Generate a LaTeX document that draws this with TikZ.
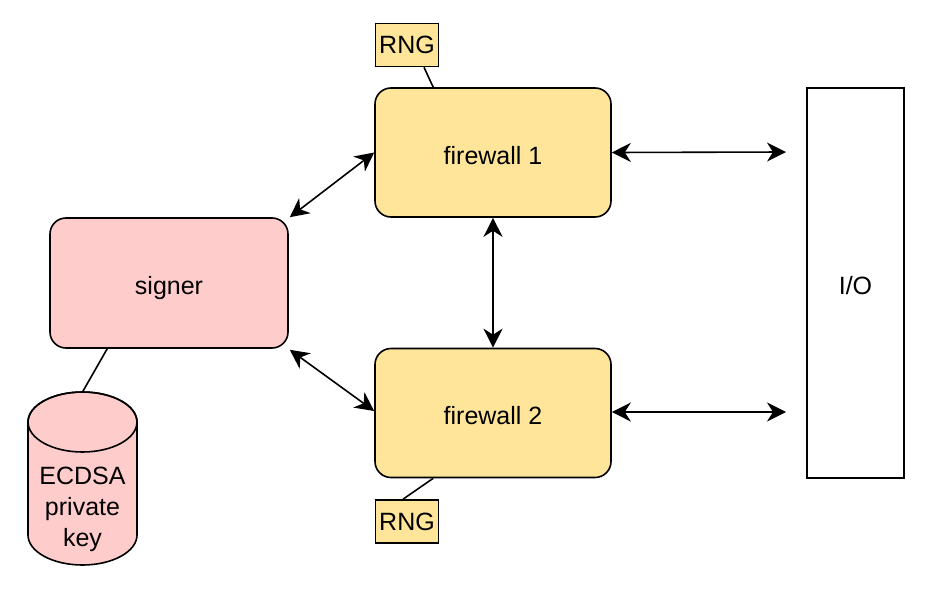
\documentclass[tikz,border=0pt]{standalone}
\usepackage{fontspec}
\setmainfont{Liberation Sans}
\usetikzlibrary{arrows.meta,calc}
\definecolor{pinkfill}{HTML}{FFCCCC}
\definecolor{yelfill}{HTML}{FFE599}
\begin{document}
\begin{tikzpicture}[x=1pt,y=-1pt,
  every node/.style={font=\fontsize{25}{31}\selectfont},
  box/.style={draw=black, line width=1.6pt, rounded corners=16pt, minimum width=236pt, minimum height=129pt, text height=27pt, text depth=4pt},
  fw/.style={box, fill=yelfill},
  rng/.style={draw=black, line width=1.6pt, fill=yelfill, minimum width=63pt, minimum height=43pt, inner sep=0pt, text height=23pt, text depth=5pt},
  link/.style={line width=1.6pt},
  biarrow/.style={line width=1.6pt, {Stealth[length=19pt,width=19pt,inset=6pt]}-{Stealth[length=19pt,width=19pt,inset=6pt]}}
]
\useasboundingbox (0,0) rectangle (934,594);
\fill[white] (0,0) rectangle (934,594);

\node[box, fill=pinkfill, minimum width=238pt, minimum height=130pt] (signer) at (169,283) {signer};
\node[fw] (fw1) at (493,152.5) {firewall 1};
\node[fw] (fw2) at (493,413) {firewall 2};
\node[rng] (rng1) at (407,45) {RNG};
\node[rng] (rng2) at (407,521.5) {RNG};
\node[draw=black, line width=1.6pt, fill=white, minimum width=97pt, minimum height=390pt, text height=27pt, text depth=4pt] (io) at (855.5,283) {I/O};

% cylinder
\filldraw[fill=pinkfill, draw=black, line width=1.6pt]
  (28,422) -- (28,535) arc[start angle=180, end angle=0, x radius=54.5, y radius=30]
  -- (137,422) arc[start angle=0, end angle=-180, x radius=54.5, y radius=30] -- cycle;
\draw[line width=1.6pt] (82.5,422) ellipse [x radius=54.5, y radius=30];
\coordinate (cyltop) at (82.5,392);
\node[align=center] (key) at (82.5,509) {ECDSA\\private\\key};

% links
\draw[link] ($(signer.south west)+(58,0)$) -- (cyltop);
\draw[link] ($(rng1.south)+(17,0)$) -- ($(fw1.north west)+(59,0)$);
\draw[link] ($(rng2.north)+(-4,0)$) -- ($(fw2.south west)+(59,0)$);

% arrows
\coordinate (io1) at (786,152);
\coordinate (io2) at (786,412);
\draw[biarrow] ($(signer.north east)+(1,0)$) -- (fw1.west);
\draw[biarrow] ($(signer.south east)+(1,1)$) -- ($(fw2.west)+(0,-2)$);
\draw[biarrow] (fw1.south) -- (fw2.north);
\draw[biarrow] (fw1.east) -- (io1);
\draw[biarrow] ($(fw2.east)+(0,-1)$) -- (io2);
\end{tikzpicture}
\end{document}
